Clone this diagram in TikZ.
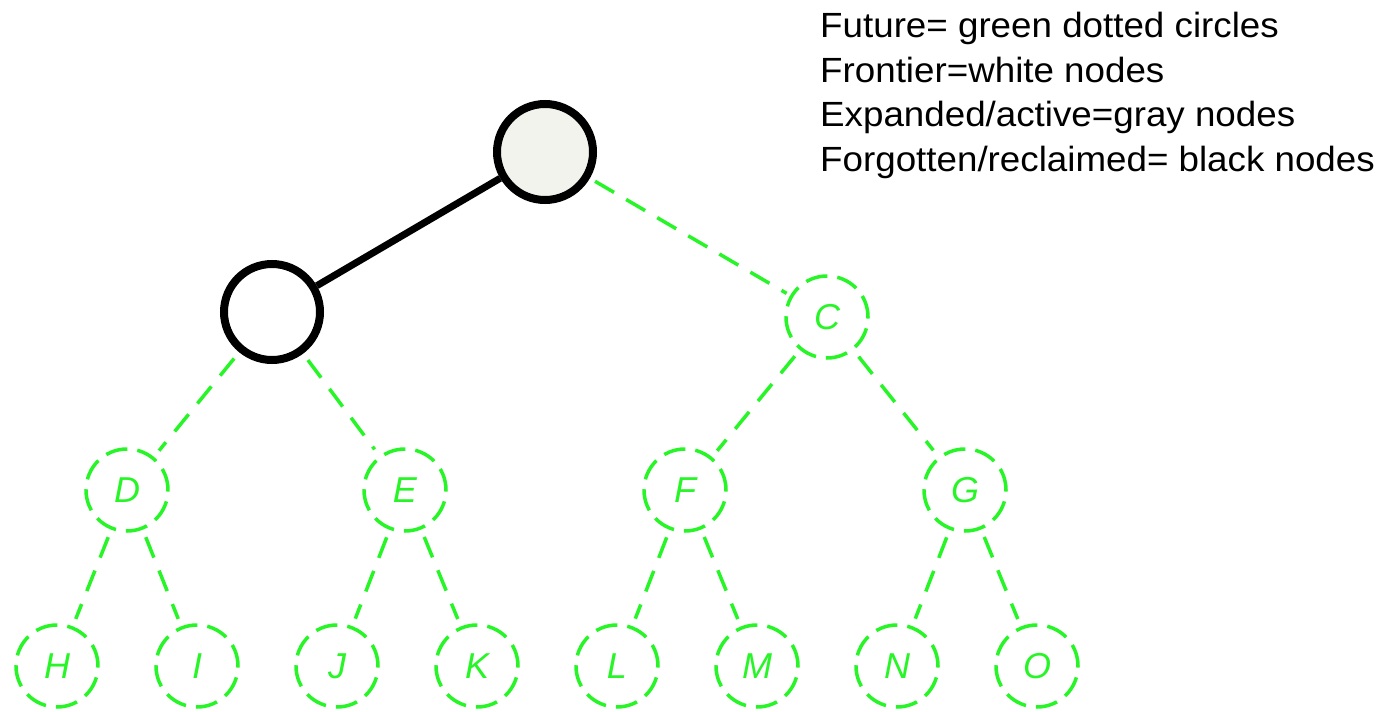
\documentclass[tikz,border=0pt]{standalone}
\usepackage{fontspec}
\setmainfont{Liberation Sans}
\begin{document}
\begin{tikzpicture}[x=1pt,y=-1pt,
  future/.style={circle,draw=fgreen,line width=3.5pt,dash pattern=on 22pt off 10pt,minimum size=82pt,inner sep=0pt,
    text=fgreen,font=\fontsize{36}{36}\selectfont\itshape},
  fedge/.style={draw=fgreen,line width=3.5pt,dash pattern=on 22pt off 14pt},
  active/.style={circle,draw=black,line width=8pt,minimum size=96pt,inner sep=0pt},
  bedge/.style={draw=black,line width=7pt}]
\definecolor{fgreen}{RGB}{40,245,40}
\useasboundingbox (0,0) rectangle (1400,712);
\node[active,fill={rgb,255:red,243;green,243;blue,238}] (A) at (545,152) {};
\node[active,fill=white] (B) at (272,312) {};
\node[future] (C) at (827,317) {C};
\node[future] (D) at (127,490) {D};
\node[future] (E) at (405,490) {E};
\node[future] (F) at (685,490) {F};
\node[future] (G) at (965,490) {G};
\node[future] (H) at (57,666) {H};
\node[future] (I) at (197,666) {I};
\node[future] (J) at (337,666) {J};
\node[future] (K) at (477,666) {K};
\node[future] (L) at (617,666) {L};
\node[future] (M) at (757,666) {M};
\node[future] (N) at (897,666) {N};
\node[future] (O) at (1037,666) {O};
\draw[bedge] (A) -- (B);
\draw[fedge,shorten <=6pt,shorten >=4pt] (A) -- (C);
\foreach \p/\c in {B/D,B/E,C/F,C/G,D/H,D/I,E/J,E/K,F/L,F/M,G/N,G/O}
  \draw[fedge,shorten <=8pt,shorten >=8pt] (\p) -- (\c);
\node[anchor=north west,align=left,font=\fontsize{35}{44.5}\selectfont,inner sep=0pt,xscale=1.05] (legend) at (820,12)
  {Future= green dotted circles\\Frontier=white nodes\\Expanded/active=gray nodes\\Forgotten/reclaimed= black nodes};
\end{tikzpicture}
\end{document}
